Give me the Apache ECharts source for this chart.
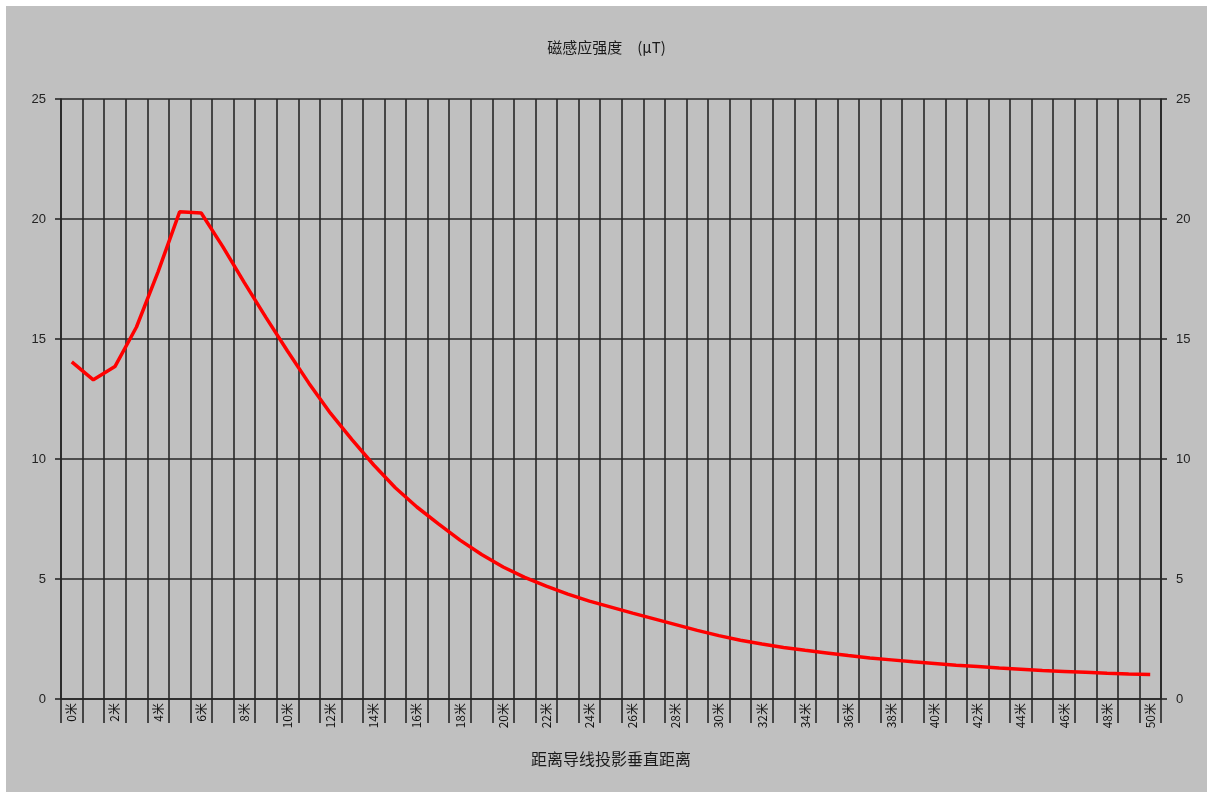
<!DOCTYPE html>
<html>
<head>
<meta charset="utf-8">
<script src="https://cdn.jsdelivr.net/npm/echarts@6/dist/echarts.min.js"></script>
<style>
html,body{margin:0;padding:0;background:#ffffff;width:1213px;height:798px;overflow:hidden;}
#chart{position:absolute;left:6px;top:6px;width:1201px;height:786px;}
</style>
</head>
<body>
<div id="chart"></div>
<script>
var titleText = '磁感应强度　(μT)';
var xAxisName = '距离导线投影垂直距离';
var distances = [];
for (var d = 0; d <= 50; d++) distances.push(d + '米');
var fieldValues = [
  14.05, 13.3, 13.85, 15.5, 17.8, 20.3, 20.25, 18.85, 17.35, 15.9,
  14.5, 13.15, 11.9, 10.8, 9.75, 8.8, 8.0, 7.3, 6.62, 6.02,
  5.5, 5.07, 4.7, 4.37, 4.08, 3.83, 3.58, 3.34, 3.1, 2.86,
  2.64, 2.45, 2.29, 2.15, 2.03, 1.92, 1.81, 1.71, 1.63, 1.55,
  1.48, 1.41, 1.35, 1.29, 1.24, 1.19, 1.15, 1.11, 1.07, 1.04,
  1.02
];
var yMin = 0, yMax = 25, yStep = 5;

var chart = echarts.init(document.getElementById('chart'));
var lineCol = '#262626';
var lineW = 1.6;
var yAxisCommon = {
  type: 'value', min: yMin, max: yMax, interval: yStep,
  axisLine: {show: true, lineStyle: {color: lineCol, width: lineW}},
  axisTick: {show: true, length: 6, lineStyle: {color: lineCol, width: lineW}},
  axisLabel: {color: '#222', fontSize: 13, fontFamily: 'Liberation Sans, Arial, sans-serif', margin: 15},
  splitLine: {show: true, lineStyle: {color: lineCol, width: lineW}}
};
chart.setOption({
  backgroundColor: '#c0c0c0',
  animation: false,
  title: {
    text: titleText, left: 'center', top: 29,
    textStyle: {fontSize: 15, fontWeight: 'normal', color: '#1a1a1a', fontFamily: 'Noto Sans CJK SC, sans-serif'}
  },
  grid: {left: 55, right: 46, top: 93, bottom: 93, containLabel: false},
  xAxis: {
    type: 'category', data: distances, boundaryGap: true,
    name: xAxisName, nameLocation: 'middle', nameGap: 52,
    nameTextStyle: {fontSize: 16, color: '#1a1a1a', fontFamily: 'Noto Sans CJK SC, sans-serif'},
    axisLine: {show: true, lineStyle: {color: lineCol, width: lineW}},
    axisTick: {show: true, interval: 0, length: 24, alignWithLabel: false, lineStyle: {color: lineCol, width: lineW}},
    axisLabel: {interval: 1, rotate: 90, margin: 4, fontSize: 12, color: '#111', fontFamily: 'Noto Sans CJK SC, sans-serif'},
    splitLine: {show: true, interval: 0, lineStyle: {color: lineCol, width: lineW}}
  },
  yAxis: [
    Object.assign({}, yAxisCommon, {position: 'left'}),
    Object.assign({}, yAxisCommon, {position: 'right', splitLine: {show: false}})
  ],
  series: [{
    type: 'line', data: fieldValues, yAxisIndex: 0,
    showSymbol: false, symbol: 'none', smooth: false,
    lineStyle: {color: '#ff0000', width: 3.5}
  }]
});
</script>
</body>
</html>
